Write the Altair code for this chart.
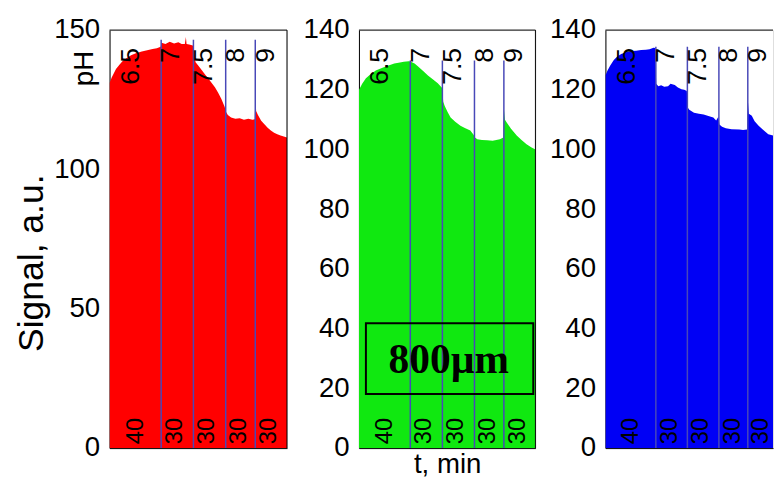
import altair as alt
import pandas as pd

# pH step boundaries (minutes) and labels
BOUNDS = [0, 48, 78, 108, 135.5]
PH_LABELS = ["6.5", "7", "7.5", "8", "9"]
DUR_LABELS = ["40", "30", "30", "30", "30"]

# Red channel
red_t = [0, 2, 4, 6, 9, 12, 16, 20, 25, 30, 35, 40, 44, 47.5, 48.3, 52, 56, 60, 64, 67,
         70, 71, 71.6, 74, 77.5, 78.3, 80, 83, 86, 89, 92, 95, 98, 101, 104, 107, 108.5,
         110, 113, 117, 121, 125, 129, 133, 135, 135.6, 136.3, 138, 141, 144, 147, 150,
         153, 156, 159, 162, 165]
red_v = [131, 133, 134.5, 136, 137.5, 138.8, 140, 141, 141.8, 142.3, 142.8, 143.2, 143.5,
         144, 145.5, 145, 145.8, 145.2, 145.6, 145, 145, 147.5, 145, 144.8, 144.5, 142,
         138.5, 137, 135.5, 134, 132.5, 131, 129.5, 127.5, 125.3, 122.5, 120.5, 119.5,
         118.6, 118.2, 118.4, 117.8, 118.2, 117.8, 118, 126.5, 121, 119.5, 117.5, 116.2,
         115, 114, 113.2, 112.6, 112.2, 111.8, 111.5]

# Green channel
green_t = [0, 3, 6.5, 10, 15.7, 22, 27.7, 33, 37, 42, 46.5, 48, 52, 55.3, 60, 64.5, 69,
           73.7, 77.8, 78.8, 80.2, 83, 85.7, 90, 94.9, 99, 104.1, 107, 108.5, 110.6, 115,
           119.8, 125, 131.8, 135, 135.6, 136.5, 138.3, 142, 147.5, 152, 156.7, 161, 165]
green_v = [119.9, 122, 123.9, 125, 126.5, 127.4, 128.1, 128.8, 129.1, 129.4, 129.6, 129.5,
           128.8, 127.8, 126.3, 124.8, 123.5, 122.2, 120.6, 116, 114.6, 112.5, 110.7, 109.3,
           108, 107.2, 106.4, 105, 104, 103.4, 103.2, 103.1, 102.9, 103.4, 104, 113.3, 110,
           109, 107, 104.7, 103.2, 101.8, 100.8, 100]

# Blue channel (panel cut at the right edge of the figure)
blue_t = [0, 2, 4.6, 8, 11, 15, 20.2, 25, 29.3, 34, 38.5, 42, 45.8, 47.5, 48.3, 50.4, 53,
          56, 59.6, 62, 66, 69, 72.4, 75, 77.5, 78.5, 79.8, 84.3, 89, 93.5, 98, 102.7,
          105.4, 107.5, 108.5, 111, 114.6, 120, 127.4, 131, 134.8, 135.6, 136.5, 139.3,
          142, 145.8, 150, 155, 159.5]
blue_v = [124.8, 126.5, 128.1, 130, 131.1, 132, 132.7, 133, 133.1, 133.3, 133.4, 133.6,
          134.1, 134, 122, 121.2, 121.5, 121, 121.2, 122, 121.6, 120.8, 120.2, 120, 119.6,
          114, 113.3, 112.3, 112, 111.7, 111.2, 110.7, 109.7, 111, 108.4, 107.6, 107.1,
          106.8, 106.7, 106.5, 106.7, 116.3, 112, 111.3, 109.5, 108, 106.6, 105.1, 104.7]

LINE_COLOR = "#4848b8"
FONT = "Liberation Sans"
PLOT_H = 424


def one():
    return pd.DataFrame({"a": [0]})


def panel(t, v, color, ymax, yvals, tend, width, line_top, ytitle="", xtitle="",
          show_box=False, show_ph=False, cut=False):
    df = pd.DataFrame({"t": t, "v": v})
    xs = alt.Scale(domain=[0, tend], nice=False, zero=False)
    ys = alt.Scale(domain=[0, ymax], nice=False)

    yax = dict(values=yvals, grid=False, ticks=False, domain=True, domainColor="black",
               domainWidth=1, labelFontSize=28, labelFont=FONT, labelColor="black",
               labelPadding=10)
    if ytitle:
        yax.update(title=ytitle, titleFontSize=36, titleFont=FONT, titleFontWeight="normal",
                   titleColor="black", titlePadding=3, titleY=PLOT_H / 2 + 24)
    else:
        yax.update(title="")
    xax = dict(labels=False, ticks=False, grid=False, domain=True, domainColor="black",
               domainWidth=1)
    if xtitle:
        xax.update(title=xtitle, titleFontSize=28, titleFont=FONT, titleFontWeight="normal",
                   titleColor="black", titlePadding=3)
    else:
        xax.update(title="")

    area = alt.Chart(df).mark_area(color=color, interpolate="linear", clip=True).encode(
        x=alt.X("t:Q", scale=xs, axis=alt.Axis(**xax)),
        y=alt.Y("v:Q", scale=ys, axis=alt.Axis(**yax)),
    )

    rules_df = pd.DataFrame({"t": BOUNDS[1:]})
    rules = alt.Chart(rules_df).mark_rule(color=LINE_COLOR, strokeWidth=1.5).encode(
        x="t:Q", y=alt.datum(0), y2=alt.datum(line_top)
    )

    px_per_min = width / tend
    top_off = [21.5 / px_per_min] + [10.5 / px_per_min] * 4
    bot_off = [26.5 / px_per_min] + [14 / px_per_min] * 4
    top_df = pd.DataFrame({"t": [b + o for b, o in zip(BOUNDS, top_off)], "lab": PH_LABELS})
    bot_df = pd.DataFrame({"t": [b + o for b, o in zip(BOUNDS, bot_off)], "lab": DUR_LABELS})
    top_y = ymax * (1 - 18 / PLOT_H)
    bot_y = ymax * (4 / PLOT_H)

    top_txt = alt.Chart(top_df).mark_text(angle=270, align="right", baseline="middle",
                                          fontSize=27, font=FONT, color="black").encode(
        x="t:Q", y=alt.datum(top_y), text="lab:N")
    bot_txt = alt.Chart(bot_df).mark_text(angle=270, align="left", baseline="middle",
                                          fontSize=24, font=FONT, color="black").encode(
        x="t:Q", y=alt.datum(bot_y), text="lab:N")

    top_rule = alt.Chart(one()).mark_rule(color="black", strokeWidth=1).encode(
        x=alt.datum(0), x2=alt.datum(tend), y=alt.datum(ymax))

    layers = [area, rules, top_txt, bot_txt, top_rule]

    if not cut:
        right_rule = alt.Chart(one()).mark_rule(color="black", strokeWidth=1).encode(
            x=alt.datum(tend), y=alt.datum(0), y2=alt.datum(ymax))
        layers.append(right_rule)

    if show_box:
        box = alt.Chart(one()).mark_rect(
            fillOpacity=0, stroke="black", strokeWidth=2).encode(
            x=alt.datum(6.5), x2=alt.datum(163), y=alt.datum(18.1), y2=alt.datum(41.8))
        box_txt = alt.Chart(one()).mark_text(
            font="Liberation Serif", fontWeight="bold", fontSize=42, color="black",
            align="center", baseline="middle").encode(
            x=alt.datum(84), y=alt.datum(29.3), text=alt.value("800\u00b5m"))
        layers += [box, box_txt]

    if show_ph:
        ph = alt.Chart(one()).mark_text(
            angle=270, align="center", baseline="middle", fontSize=28, font=FONT,
            color="black").encode(
            x=alt.datum(-25 / px_per_min), y=alt.datum(ymax - 39 * ymax / PLOT_H),
            text=alt.value("pH"))
        layers.append(ph)

    return alt.layer(*layers).properties(width=width, height=PLOT_H)


red = panel(red_t, red_v, "#ff0000", 150, [0, 50, 100, 150], 165, 180, 146.5,
            ytitle="Signal, a.u.", show_ph=True)
green = panel(green_t, green_v, "#10e810", 140, [0, 20, 40, 60, 80, 100, 120, 140], 165,
              179, 129.8, xtitle="t, min", show_box=True)
blue = panel(blue_t, blue_v, "#0000f5", 140, [0, 20, 40, 60, 80, 100, 120, 140], 159.5,
             170, 134.4, cut=True)

chart = alt.hconcat(
    alt.hconcat(red, green, spacing=14), blue, spacing=12
).properties(
    padding={"left": 5, "top": 4, "right": 0, "bottom": 0}
).configure_view(
    strokeWidth=0
).configure(background="white")

chart.save("out.html", embed_options={"renderer": "svg", "actions": False})
